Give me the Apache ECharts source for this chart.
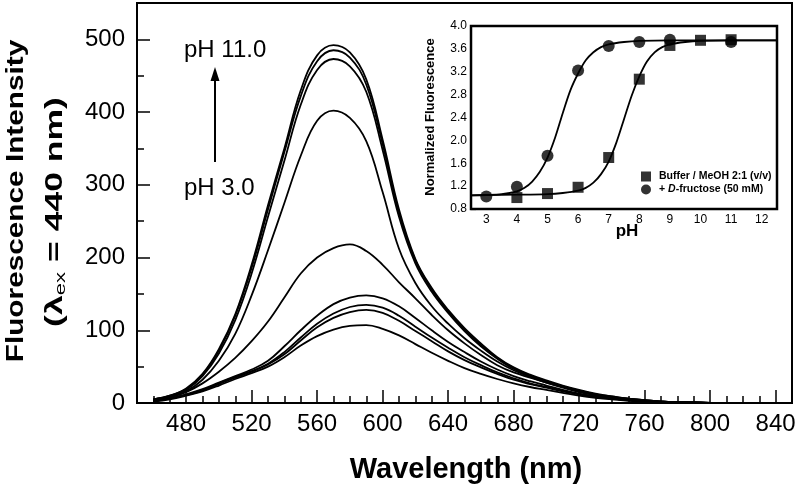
<!DOCTYPE html>
<html><head><meta charset="utf-8">
<script src="https://cdn.jsdelivr.net/npm/echarts@6/dist/echarts.min.js"></script>
<style>html,body{margin:0;padding:0;background:#fff}#c{width:800px;height:493px}</style>
</head><body><div id="c"></div>
<script>
// ---- Main spectra (wavelength in nm, intensity) ----
const wavelengths = [460,470,480,490,500,510,520,530,540,550,560,570,580,590,600,610,620,630,640,650,660,670,680,690,700,710,720,730,740,750,760,770,780,790,800];
const pH11 = [5,10,20,40,74,122,190,272,350,430,478,492,482,445,362,266,198,158,128,103,82,63,49,39,31,24,18,13,9,6,4,2,1,1,0];
const pH10 = [5,10,19,39,72,120,186,266,345,422,470,485,475,438,356,262,196,156,126,101,80,62,48,38,30,23,17,12,9,6,4,2,1,1,0];
const pH9  = [5,9,18,37,68,114,178,256,333,410,458,473,463,428,348,256,192,153,124,99,78,61,47,37,29,23,17,12,8,6,4,2,1,1,0];
const pH8  = [4,8,16,32,58,95,148,210,275,340,388,402,392,360,290,212,165,133,109,89,72,57,45,36,28,21,15,11,7,5,3,2,1,0,0];
const pH7  = [3,8,15,27,43,62,85,112,145,178,200,213,218,209,190,166,144,121,100,82,66,52,42,35,28,22,16,11,8,5,3,2,1,0,0];
const pH6  = [3,6,12,19,28,37,46,58,78,100,120,136,145,148,144,133,117,100,84,70,57,46,37,30,24,18,13,9,6,4,3,2,1,0,0];
const pH5  = [3,6,11,18,27,36,44,54,70,90,109,123,132,135,131,120,105,90,76,63,52,42,34,27,22,17,12,9,6,4,2,1,1,0,0];
const pH4  = [3,6,11,17,26,35,43,53,67,86,104,117,125,128,124,113,99,85,71,59,49,40,32,26,21,16,12,8,6,4,2,1,1,0,0];
const pH3  = [2,5,10,16,24,33,41,50,63,79,92,101,106,107,102,93,81,69,58,48,40,33,27,22,18,14,10,7,5,3,2,1,1,0,0];
const spectra = [pH3,pH4,pH5,pH6,pH7,pH8,pH9,pH10,pH11];

// ---- Main axes ticks ----
const xTickLabels = [480,520,560,600,640,680,720,760,800,840];
const xMajorTicks = [480,520,560,600,640,680,720,760,800,840];
const yTickLabels = [0,100,200,300,400,500];

// ---- Inset data ----
const insetXLabels = [3,4,5,6,7,8,9,10,11,12];
const insetXMajor = [3,4,5,6,7,8,9,10,11,12];
const insetXMinor = [3.5,4.5,5.5,6.5,7.5,8.5,9.5,10.5,11.5];
const bufferName = 'Buffer / MeOH 2:1 (v/v)';
const fructName = '+ D-fructose (50 mM)';
const bufferPH = [4,5,6,7,8,9,10,11];
const bufferF  = [1.00,1.07,1.18,1.70,3.07,3.66,3.75,3.76];
const fructPH  = [3,4,5,6,7,8,9,11];
const fructF   = [1.02,1.19,1.73,3.22,3.65,3.72,3.76,3.72];
const fitBufferPH = [2.5,3,4,5,5.5,6,6.25,6.5,6.75,7,7.25,7.5,7.75,8,8.25,8.5,8.75,9,9.5,10,11,12,12.5];
const fitBufferF  = [1.04,1.045,1.05,1.06,1.08,1.12,1.17,1.26,1.41,1.63,1.96,2.37,2.78,3.12,3.38,3.54,3.63,3.68,3.72,3.74,3.75,3.75,3.75];
const fitFructPH  = [2.5,3,3.5,4,4.25,4.5,4.75,5,5.25,5.5,5.75,6,6.25,6.5,6.75,7,7.5,8,9,10,11,12,12.5];
const fitFructF   = [1.04,1.045,1.06,1.11,1.17,1.28,1.45,1.70,2.05,2.48,2.88,3.17,3.40,3.54,3.63,3.68,3.72,3.74,3.75,3.75,3.75,3.75,3.75];

const fam = '"Liberation Sans", Arial, Helvetica, sans-serif';
const zip = (xs, ys) => xs.map((x, i) => [x, ys[i]]);

const chart = echarts.init(document.getElementById('c'), null, {renderer: 'canvas'});

const noLine = () => ({show: false, onZero: false});
const noSplit = () => ({show: false});
const noLabel = () => ({show: false});
function tickAxisCustom(grid, min, max, pos, values, len, w) {
  return {gridIndex: grid, type: 'value', min: min, max: max, position: pos,
          axisLine: noLine(), splitLine: noSplit(), axisLabel: noLabel(),
          axisTick: {show: true, inside: true, length: len, customValues: values.slice(), lineStyle: {color: '#000', width: w}}};
}
function tickAxisInterval(grid, min, max, pos, interval, len, w) {
  return {gridIndex: grid, type: 'value', min: min, max: max, interval: interval, position: pos,
          axisLine: noLine(), splitLine: noSplit(), axisLabel: noLabel(),
          axisTick: {show: true, inside: true, length: len, lineStyle: {color: '#000', width: w}}};
}
const option = {
  animation: false,
  backgroundColor: '#fff',
  grid: [
    {left: 137, top: 3, width: 655, height: 400, show: true, borderColor: '#000', borderWidth: 2, backgroundColor: 'transparent'},
    {left: 471, top: 26, width: 306, height: 183, show: true, borderColor: '#000', borderWidth: 2.5, backgroundColor: '#fff', z: 5}
  ],
  xAxis: [
    {gridIndex: 0, type: 'value', min: 450, max: 850, position: 'bottom',
     axisLine: noLine(), splitLine: noSplit(), axisTick: {show: false},
     axisLabel: {show: true, customValues: xTickLabels, color: '#000', fontSize: 24, fontFamily: fam, margin: 9}},
    tickAxisCustom(0, 450, 850, 'bottom', xMajorTicks, 13, 1.5),
    tickAxisInterval(0, 450, 850, 'bottom', 10, 7, 1.5),
    {gridIndex: 1, type: 'value', min: 2.5, max: 12.5, position: 'bottom',
     axisLine: noLine(), splitLine: noSplit(), axisTick: {show: false},
     axisLabel: {show: true, customValues: insetXLabels, color: '#000', fontSize: 12, fontFamily: fam, margin: 5}},
    tickAxisCustom(1, 2.5, 12.5, 'bottom', insetXMajor, 5, 1.2),
    tickAxisCustom(1, 2.5, 12.5, 'bottom', insetXMinor, 3, 1.2)
  ],
  yAxis: [
    {gridIndex: 0, type: 'value', min: 0, max: 550, position: 'left',
     axisLine: noLine(), splitLine: noSplit(), axisTick: {show: false},
     axisLabel: {show: true, customValues: yTickLabels, color: '#000', fontSize: 24, fontFamily: fam, margin: 12}},
    tickAxisInterval(0, 0, 550, 'left', 100, 13, 1.5),
    tickAxisInterval(0, 0, 550, 'left', 50, 7, 1.5),
    {gridIndex: 1, type: 'value', min: 0.8, max: 4.0, interval: 0.4, position: 'left',
     axisLine: noLine(), splitLine: noSplit(),
     axisTick: {show: true, inside: true, length: 5, lineStyle: {color: '#000', width: 1.2}},
     minorTick: {show: true, splitNumber: 2, length: 3, lineStyle: {color: '#000', width: 1.2}},
     axisLabel: {show: true, color: '#000', fontSize: 12, fontFamily: fam, margin: 4,
                 formatter: v => v.toFixed(1)}}
  ],
  legend: {
    data: [bufferName, fructName],
    orient: 'vertical', left: 636, top: 166, itemWidth: 10, itemHeight: 10, itemGap: 2,
    selectedMode: false, z: 10,
    formatter: n => n === fructName ? '+ {i|D}-fructose (50 mM)' : n,
    textStyle: {color: '#000', fontSize: 10.5, fontWeight: 'bold', fontFamily: fam, padding: [0, 0, 0, 3],
                rich: {i: {fontStyle: 'italic', fontWeight: 'bold', fontSize: 10.5, fontFamily: fam, color: '#000'}}}
  },
  series: spectra.map((arr, k) => ({
    name: 'pH ' + (k + 3), type: 'line', xAxisIndex: 0, yAxisIndex: 0,
    data: zip(wavelengths, arr), showSymbol: false, symbol: 'none', smooth: 0.4,
    lineStyle: {color: '#000', width: 1.8}, z: 2
  })).concat([
    {name: 'fitBuffer', type: 'line', xAxisIndex: 3, yAxisIndex: 3, data: zip(fitBufferPH, fitBufferF),
     symbol: 'none', smooth: 0.3, lineStyle: {color: '#000', width: 1.8}, z: 6},
    {name: 'fitFruct', type: 'line', xAxisIndex: 3, yAxisIndex: 3, data: zip(fitFructPH, fitFructF),
     symbol: 'none', smooth: 0.3, lineStyle: {color: '#000', width: 1.8}, z: 6},
    {name: bufferName, type: 'scatter', xAxisIndex: 3, yAxisIndex: 3, data: zip(bufferPH, bufferF),
     symbol: 'rect', symbolSize: 11, itemStyle: {color: '#000'}, z: 7},
    {name: fructName, type: 'scatter', xAxisIndex: 3, yAxisIndex: 3, data: zip(fructPH, fructF),
     symbol: 'circle', symbolSize: 12, itemStyle: {color: '#000'}, z: 7}
  ]),
  graphic: [
    {type: 'text', x: 16, y: 201, rotation: Math.PI / 2, scaleX: 1.24, z: 10,
     style: {text: 'Fluorescence Intensity', font: 'bold 24px ' + fam, fill: '#000',
             textAlign: 'center', textVerticalAlign: 'middle', align: 'center', verticalAlign: 'middle'}},
    {type: 'text', x: 55, y: 212, rotation: Math.PI / 2, scaleX: 1.48, z: 10,
     style: {text: '(λ{s|ex} = 440 nm)', font: 'bold 24px ' + fam, fill: '#000',
             textAlign: 'center', textVerticalAlign: 'middle', align: 'center', verticalAlign: 'middle',
             rich: {s: {fontSize: 15, fontWeight: 'normal', fontFamily: fam, fill: '#000', padding: [12, 0, 0, 0]}}}},
    {type: 'text', x: 466, y: 470, z: 10,
     style: {text: 'Wavelength (nm)', font: 'bold 29px ' + fam, fill: '#000',
             textAlign: 'center', textVerticalAlign: 'middle', align: 'center', verticalAlign: 'middle'}},
    {type: 'text', x: 184, y: 50, z: 10,
     style: {text: 'pH 11.0', font: '24px ' + fam, fill: '#000',
             textAlign: 'left', textVerticalAlign: 'middle', align: 'left', verticalAlign: 'middle'}},
    {type: 'text', x: 184, y: 188, z: 10,
     style: {text: 'pH 3.0', font: '24px ' + fam, fill: '#000',
             textAlign: 'left', textVerticalAlign: 'middle', align: 'left', verticalAlign: 'middle'}},
    {type: 'line', z: 10, shape: {x1: 215, y1: 162, x2: 215, y2: 78}, style: {stroke: '#000', lineWidth: 2}},
    {type: 'polygon', z: 10, shape: {points: [[215, 67], [210.5, 81], [219.5, 81]]}, style: {fill: '#000'}},
    {type: 'text', x: 430, y: 117, rotation: Math.PI / 2, z: 10,
     style: {text: 'Normalized Fluorescence', font: 'bold 13px ' + fam, fill: '#000',
             textAlign: 'center', textVerticalAlign: 'middle', align: 'center', verticalAlign: 'middle'}},
    {type: 'text', x: 627, y: 231, z: 10,
     style: {text: 'pH', font: 'bold 17px ' + fam, fill: '#000',
             textAlign: 'center', textVerticalAlign: 'middle', align: 'center', verticalAlign: 'middle'}}
  ]
};
chart.setOption(option);
</script>
</body></html>
